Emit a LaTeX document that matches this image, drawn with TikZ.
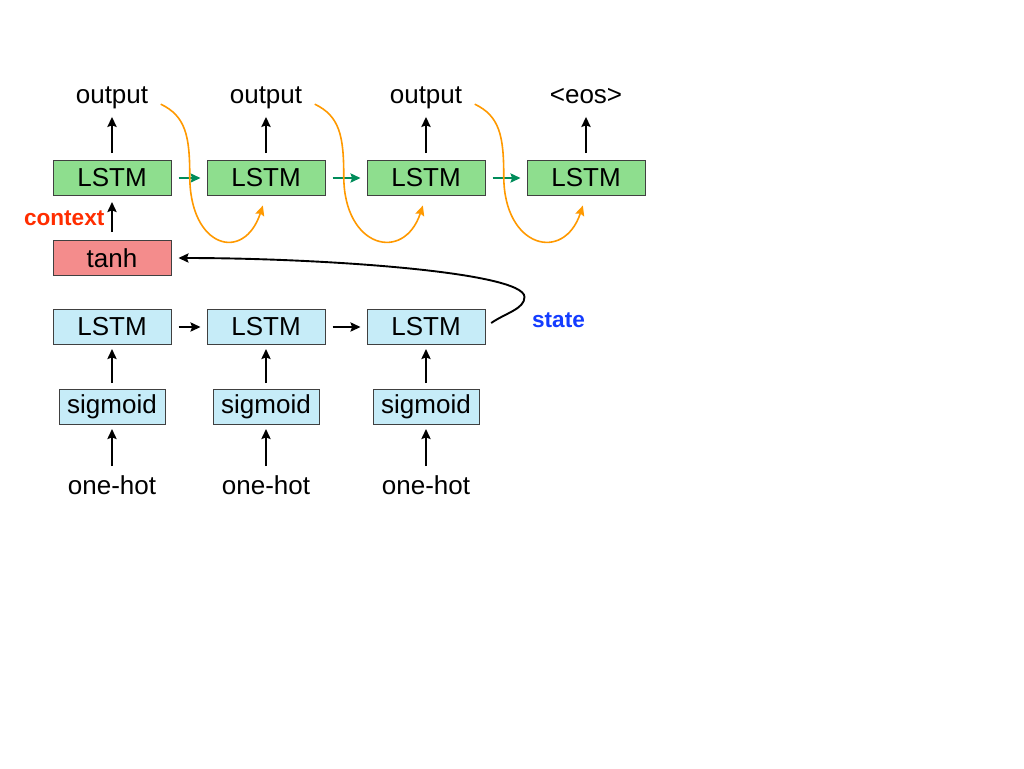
\documentclass[tikz,border=0pt]{standalone}
\usepackage{fontspec}
\setmainfont{Liberation Sans}
\usetikzlibrary{positioning,arrows.meta}

\definecolor{decgreen}{RGB}{142,222,142}
\definecolor{encblue}{RGB}{198,236,248}
\definecolor{tanhred}{RGB}{244,140,140}
\definecolor{feedorange}{RGB}{255,153,0}
\definecolor{stepgreen}{RGB}{0,140,90}
\definecolor{ctxred}{RGB}{255,45,0}
\definecolor{stateblue}{RGB}{20,60,255}

\begin{document}
\begin{tikzpicture}[x=0.5pt,y=-0.5pt,->,>={Stealth[length=5pt,width=4.6pt,inset=0.8pt]},line width=0.95pt,node distance=40pt,
  font=\fontsize{13}{15}\selectfont,
  box node/.style={rectangle,draw=black!75,line width=0.5pt,minimum width=59pt,minimum height=17.5pt,inner sep=0pt},
  dec node/.style={box node,fill=decgreen},
  enc node/.style={box node,fill=encblue},
  act node/.style={box node,fill=encblue,minimum width=53pt},
  word node/.style={text height=0.72em,text depth=0.21em},
  tag node/.style={font=\bfseries\fontsize{11.3}{13}\selectfont}]
  \useasboundingbox (0,0) rectangle (1024,768);

  % decoder
  \node[dec node] (d1) at (112,178) {LSTM};
  \node[dec node] (d2) at (266,178) {LSTM};
  \node[dec node] (d3) at (426,178) {LSTM};
  \node[dec node] (d4) at (586,178) {LSTM};
  \node[word node] (o1) [above of=d1] {output};
  \node[word node] (o2) [above of=d2] {output};
  \node[word node] (o3) [above of=d3] {output};
  \node[word node] (o4) [above of=d4] {<eos>};
  \node[box node,fill=tanhred] (t) [below of=d1] {tanh};

  % encoder
  \node[enc node] (e1) at (112,327) {LSTM};
  \node[enc node] (e2) at (266,327) {LSTM};
  \node[enc node] (e3) at (426,327) {LSTM};
  \node[act node] (s1) [below of=e1] {sigmoid};
  \node[act node] (s2) [below of=e2] {sigmoid};
  \node[act node] (s3) [below of=e3] {sigmoid};
  \node[word node] (h1) [below of=s1,yshift=-1pt] {one-hot};
  \node[word node] (h2) [below of=s2,yshift=-1pt] {one-hot};
  \node[word node] (h3) [below of=s3,yshift=-1pt] {one-hot};
  \node[tag node,text=stateblue] (st) [right=19.5pt of e3,yshift=3.5pt] {state};

  \path[shorten <=3.5pt,shorten >=1pt]
    (d1) edge (o1)
    (d2) edge (o2)
    (d3) edge (o3)
    (d4) edge (o4);
  \path[shorten <=3pt,shorten >=2pt]
    (s1) edge (e1)
    (s2) edge (e2)
    (s3) edge (e3)
    (h1) edge (s1)
    (h2) edge (s2)
    (h3) edge (s3);
  \path[shorten <=4pt,shorten >=3pt]
    (t) edge node[left,tag node,text=ctxred] (ctx) {context} (d1);
  \path[shorten <=3.5pt,shorten >=3pt]
    (e1) edge (e2)
    (e2) edge (e3)
    (d1) edge[stepgreen] (d2)
    (d2) edge[stepgreen] (d3)
    (d3) edge[stepgreen] (d4);

  \draw[feedorange,line width=0.8pt,shorten >=5pt] ([xshift=2.5pt]o1.-8) .. controls +(25,12) and +(0,-40) .. ++(29,72)
    .. controls +(0,72) and +(-22,67) .. (d2.south);
  \draw[feedorange,line width=0.8pt,shorten >=5pt] ([xshift=2.5pt]o2.-8) .. controls +(25,12) and +(0,-40) .. ++(29,72)
    .. controls +(0,72) and +(-22,67) .. (d3.south);
  \draw[feedorange,line width=0.8pt,shorten >=5pt] ([xshift=2.5pt]o3.-8) .. controls +(25,12) and +(0,-40) .. ++(29,72)
    .. controls +(0,72) and +(-22,67) .. (d4.south);

  \draw[shorten <=3.5pt,shorten >=3.5pt] (e3.east) .. controls +(20,-14) and +(0,12) .. ++(39,-30)
    .. controls +(0,-25) and +(150,0) .. (t.east);
\end{tikzpicture}
\end{document}
